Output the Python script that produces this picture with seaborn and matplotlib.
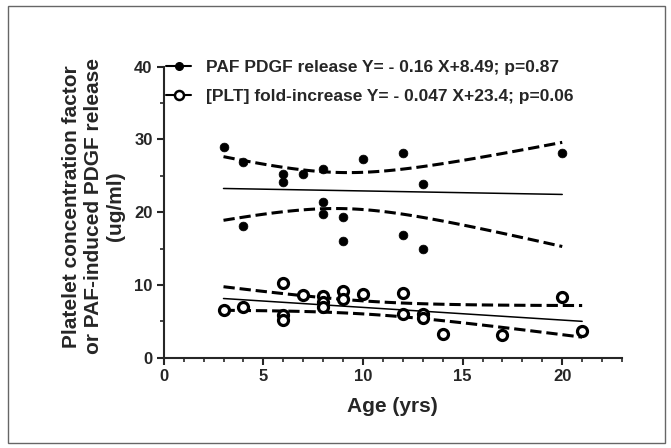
import numpy as np
import pandas as pd
import matplotlib
matplotlib.use('Agg')
import matplotlib.pyplot as plt
import seaborn as sns
from matplotlib.lines import Line2D
from matplotlib.patches import Rectangle
from matplotlib.ticker import MultipleLocator

# filled circles (PAF PDGF release)
paf_age = [3, 4, 4, 6, 6, 7, 8, 8, 8, 9, 9, 10, 12, 12, 13, 13, 20]
paf_val = [29.0, 26.9, 18.1, 25.3, 24.1, 25.2, 25.9, 21.4, 19.7, 19.4, 16.1, 27.3, 28.2, 16.9, 23.9, 14.9, 28.2]

# open circles ([PLT] fold-increase)
plt_age = [3, 4, 6, 6, 6, 7, 8, 8, 8, 9, 9, 10, 12, 12, 13, 13, 14, 17, 20, 21]
plt_val = [6.6, 7.0, 10.2, 5.9, 5.2, 8.6, 8.5, 7.7, 6.9, 9.1, 8.0, 8.8, 8.9, 6.0, 6.0, 5.5, 3.2, 3.1, 8.4, 3.6]

legend_labels = ['PAF PDGF release Y= - 0.16 X+8.49; p=0.87',
                 '[PLT] fold-increase Y= - 0.047 X+23.4; p=0.06']

sns.set_style('ticks')
plt.rcParams['font.family'] = ['Liberation Sans', 'DejaVu Sans']
plt.rcParams['font.weight'] = 'bold'
plt.rcParams['axes.labelweight'] = 'bold'


def conf_band(x, y, t):
    # 95% confidence band of the linear fit
    x = np.asarray(x, float)
    y = np.asarray(y, float)
    b, a = np.polyfit(x, y, 1)
    n = len(x)
    s = np.sqrt(np.sum((y - (a + b * x)) ** 2) / (n - 2))
    sxx = np.sum((x - x.mean()) ** 2)
    xs = np.linspace(x.min(), x.max(), 100)
    fit = a + b * xs
    half = t * s * np.sqrt(1 / n + (xs - x.mean()) ** 2 / sxx)
    return pd.DataFrame({'x': xs, 'lo': fit - half, 'hi': fit + half})


fig = plt.figure(figsize=(6.71, 4.48), dpi=100)
fig.patches.append(Rectangle((0.012, 0.011), 0.979, 0.975, transform=fig.transFigure,
                             fill=False, edgecolor='#666666', lw=1))
ax = fig.add_axes([0.244, 0.2016, 0.683, 0.6496])

for xs, ys, t in [(paf_age, paf_val, 2.131), (plt_age, plt_val, 2.101)]:
    sns.regplot(x=xs, y=ys, ci=None, scatter=False, ax=ax,
                line_kws=dict(color='black', lw=1.1))
    band = conf_band(xs, ys, t)
    for col in ['lo', 'hi']:
        sns.lineplot(data=band, x='x', y=col, ax=ax, color='black', lw=2.2,
                     dashes=(3.2, 1.4), linestyle='--')

sns.scatterplot(x=paf_age, y=paf_val, ax=ax, color='black', s=40,
                edgecolor='black', linewidth=0.5, zorder=5)
sns.scatterplot(x=plt_age, y=plt_val, ax=ax, facecolor='white', s=52,
                edgecolor='black', linewidth=2.3, zorder=5)

ax.set_xlim(0, 23)
ax.set_ylim(0, 40)
ax.xaxis.set_major_locator(MultipleLocator(5))
ax.xaxis.set_minor_locator(MultipleLocator(1))
ax.yaxis.set_major_locator(MultipleLocator(10))
ax.yaxis.set_minor_locator(MultipleLocator(5))
ax.set_xticks([0, 5, 10, 15, 20])
for side in ['top', 'right']:
    ax.spines[side].set_visible(False)
for side in ['left', 'bottom']:
    ax.spines[side].set_linewidth(1.5)
ax.tick_params(which='major', length=5, width=1.5, labelsize=12, pad=3)
ax.tick_params(which='minor', length=3, width=1.2)

ax.set_xlabel('Age (yrs)', fontsize=15)
ax.set_ylabel('Platelet concentration factor\nor PAF-induced PDGF release\n(ug/ml)',
              fontsize=15, linespacing=1.2)
ax.xaxis.set_label_coords(0.5, -0.135)
ax.yaxis.set_label_coords(-0.085, 0.52)

handles = [Line2D([], [], color='black', lw=1.5, marker='o', markersize=5.5,
                  markerfacecolor='black'),
           Line2D([], [], color='black', lw=1.5, marker='o', markersize=6.5,
                  markerfacecolor='white', markeredgewidth=1.8)]
ax.legend(handles, legend_labels, loc='upper left', bbox_to_anchor=(0.006, 1.022),
          frameon=False, fontsize=12.5, handlelength=1.4, handletextpad=0.85,
          labelspacing=0.75, borderpad=0, borderaxespad=0)

fig.savefig('out.png', dpi=100)
